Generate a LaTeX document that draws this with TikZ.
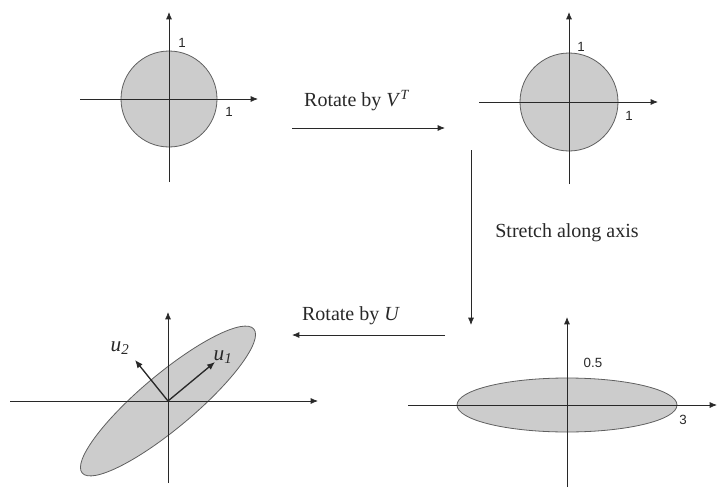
\documentclass[tikz,border=0pt]{standalone}
\usepackage{fontspec}
\setmainfont{Liberation Serif}
\newfontfamily\numfont{Liberation Sans}
\usetikzlibrary{arrows.meta, positioning}
\definecolor{discfill}{RGB}{204,204,204}
\definecolor{discline}{RGB}{95,95,95}
\definecolor{axisline}{RGB}{40,40,40}

\tikzset{
  axis/.style={-{Latex[length=5.5pt,width=4.5pt]}, axisline, line width=0.6pt},
  shapefill/.style={fill=discfill, draw=discline, line width=0.6pt},
  numlabel/.style={font=\numfont\fontsize{10}{12}\selectfont, text=axisline},
  maplabel/.style={font=\fontsize{15}{17}\selectfont, text=axisline},
  maparrow/.style={-{Latex[length=5.5pt,width=4.5pt]}, line width=0.6pt, axisline},
  vecarrow/.style={-{Latex[length=6pt,width=5pt]}, line width=1pt, axisline},
  veclabel/.style={font=\fontsize{16}{18}\selectfont, text=axisline}
}

\begin{document}
\begin{tikzpicture}[x=0.75pt, y=0.75pt]
  \useasboundingbox (0,0) rectangle (718,487);

  % unit disc
  \begin{scope}[shift={(169,388)}]
  \coordinate (o1) at (0,0);
  \filldraw[shapefill] (o1) circle (48);
  \draw[axis] (-89,0) -- (89,0);
  \draw[axis] (0,-83) -- (0,87);
  \node[numlabel] (top1) at (13,56) {1};
  \node[numlabel] (right1) at (60,-13) {1};
  \end{scope}

  % rotated disc
  \begin{scope}[shift={(569,385)}]
  \coordinate (o2) at (0,0);
  \filldraw[shapefill] (o2) circle (49);
  \draw[axis] (-90,0) -- (89,0);
  \draw[axis] (0,-82) -- (0,90);
  \node[numlabel] (top2) at (12,55) {1};
  \node[numlabel] (right2) at (60,-14) {1};
  \end{scope}

  % stretched ellipse
  \begin{scope}[shift={(567,82)}]
  \coordinate (o4) at (0,0);
  \filldraw[shapefill] (o4) ellipse (110 and 27);
  \draw[axis] (-159,0) -- (150,0);
  \draw[axis] (0,-82) -- (0,88);
  \node[numlabel] (top4) at (26,42) {0.5};
  \node[numlabel] (right4) at (116,-15) {3};
  \end{scope}

  % rotated ellipse with u1, u2
  \begin{scope}[shift={(168,86)}]
  \coordinate (o3) at (0,0);
  \filldraw[shapefill, rotate=40] (o3) ellipse (112 and 27);
  \draw[axis] (-158,0) -- (150,0);
  \draw[axis] (0,-82) -- (0,89);
  \coordinate (u1tip) at (47,39);
  \coordinate (u2tip) at (-33,41);
  \draw[vecarrow] (o3) -- (u1tip);
  \draw[vecarrow] (o3) -- (u2tip);
  \node[veclabel] (u1) at (55,44) {\textit{u}\textsubscript{\textit{1}}};
  \node[veclabel] (u2) at (-48,53) {\textit{u}\textsubscript{\textit{2}}};
  \end{scope}

  % the three maps
  \coordinate (a1s) at (292,359);
  \coordinate (a1e) at (445,359);
  \coordinate (a2s) at (471,337);
  \coordinate (a2e) at (471,162);
  \coordinate (a3s) at (445,152);
  \coordinate (a3e) at (292,152);
  \draw[maparrow] (a1s) -- (a1e);
  \draw[maparrow] (a2s) -- (a2e);
  \draw[maparrow] (a3s) -- (a3e);
  \node[maplabel] (rotV) at (357,386) {Rotate by \textit{V}\textsuperscript{\textit{T}}};
  \node[maplabel] (stretch) at (567,254) {Stretch along axis};
  \node[maplabel] (rotU) at (351,171) {Rotate by \textit{U}};
\end{tikzpicture}
\end{document}
